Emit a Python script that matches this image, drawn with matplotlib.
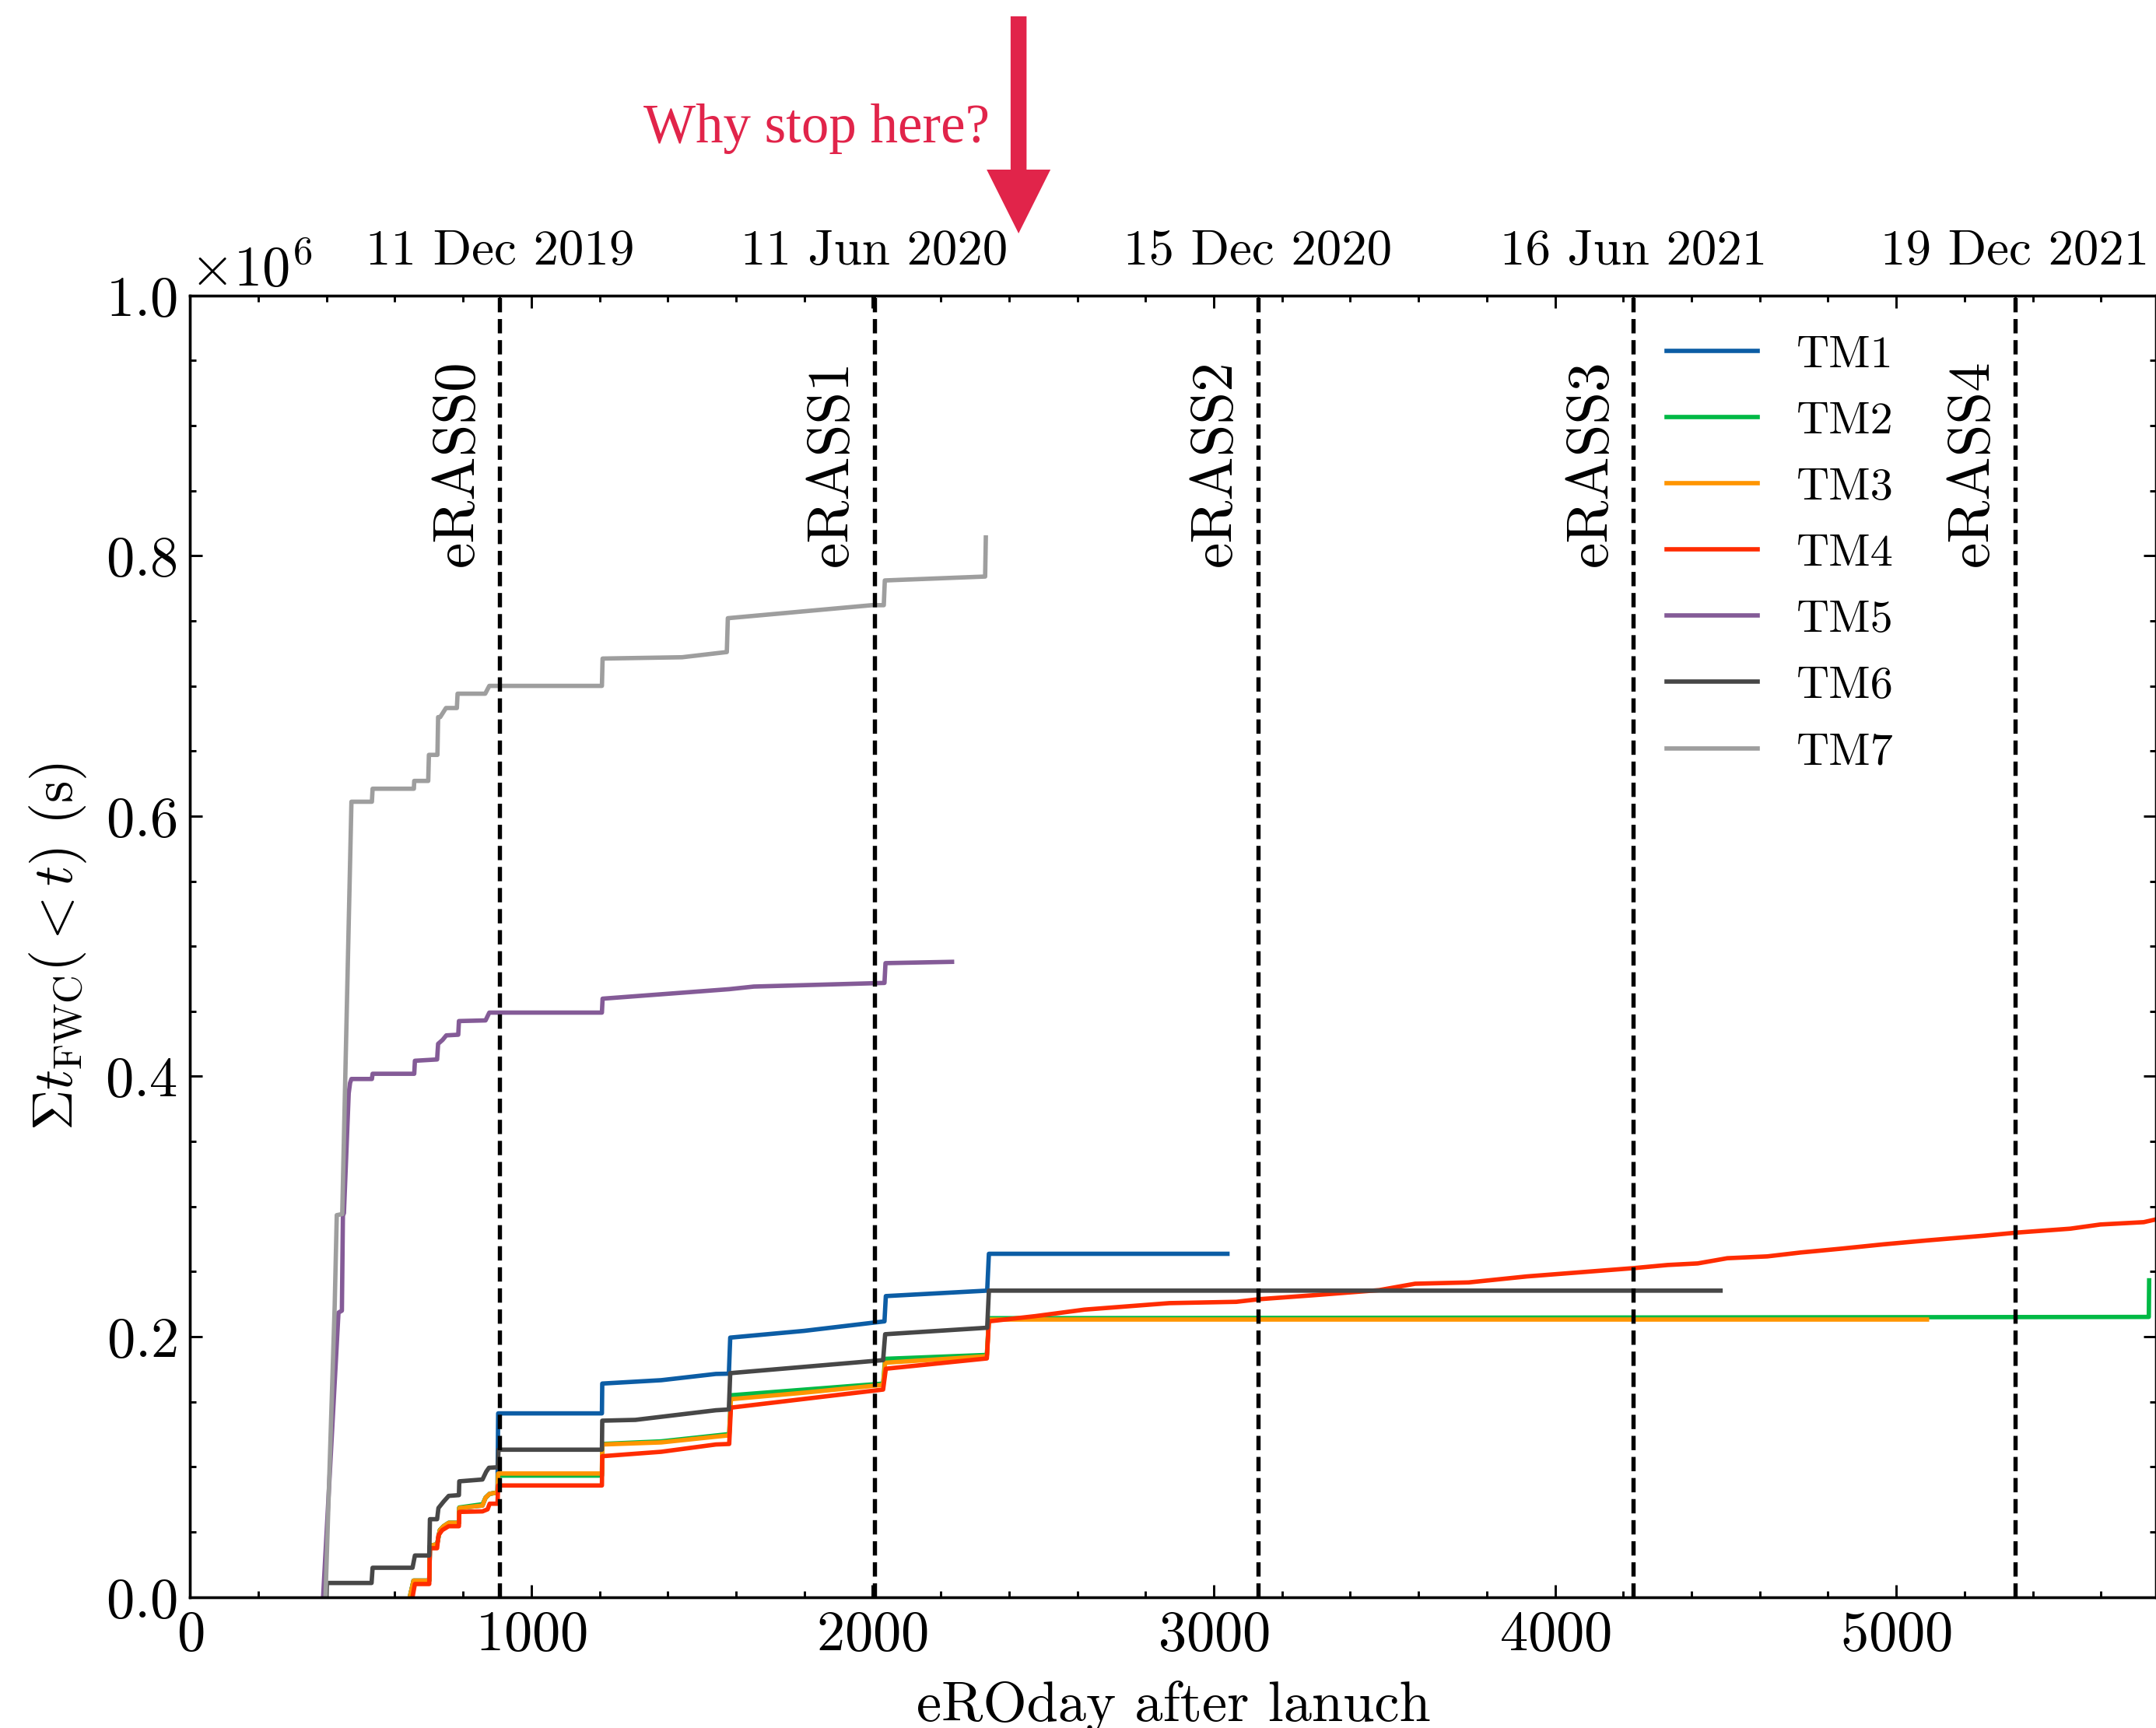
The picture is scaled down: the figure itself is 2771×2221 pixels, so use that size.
import matplotlib
matplotlib.use("Agg")
import matplotlib.pyplot as plt
import matplotlib.transforms as mtransforms
import numpy as np
from matplotlib.ticker import MultipleLocator, ScalarFormatter, NullLocator
from matplotlib.patches import FancyArrow

plt.rcParams.update({
    "font.family": "serif",
    "font.serif": ["cmr10"],
    "mathtext.fontset": "cm",
    "axes.formatter.use_mathtext": True,
    "axes.unicode_minus": False,
    "xtick.direction": "in",
    "ytick.direction": "in",
    "xtick.top": True,
    "ytick.right": True,
})

# ---------------- data (values in units of 1e6 s) ----------------
SCALE = 1e6

tm1_day = [644, 655, 701, 703, 724, 732, 743, 758, 788, 789, 857, 866, 878, 901, 903, 1207, 1208,
           1381, 1541, 1579, 1583, 1800, 2035, 2039, 2336, 2341, 3040]
tm1_val = [0.0, 0.0126, 0.0126, 0.0395, 0.0405, 0.0514, 0.0544, 0.057, 0.057, 0.0684, 0.0703, 0.0763,
           0.0793, 0.0803, 0.1411, 0.1411, 0.164, 0.1666, 0.1714, 0.1716, 0.1993, 0.2045, 0.2118,
           0.2312, 0.2354, 0.2637, 0.2637]

tm2_day = [644, 655, 701, 703, 724, 732, 743, 758, 788, 789, 857, 866, 878, 901, 903, 1207, 1208,
           1381, 1580, 1585, 2031, 2037, 2335, 2341, 5740, 5741]
tm2_val = [0.0, 0.0126, 0.0126, 0.0395, 0.0405, 0.0514, 0.0544, 0.057, 0.057, 0.0688, 0.0713, 0.0763,
           0.0793, 0.0803, 0.0933, 0.0933, 0.1176, 0.1196, 0.1252, 0.155, 0.164, 0.183, 0.186,
           0.2142, 0.2152, 0.2433]

tm3_day = [644, 655, 701, 703, 724, 732, 743, 758, 788, 789, 857, 866, 878, 901, 903, 1207, 1208,
           1381, 1541, 1580, 1585, 1800, 2031, 2037, 2335, 2341, 5090]
tm3_val = [0.0, 0.0126, 0.0126, 0.0395, 0.0405, 0.0514, 0.0544, 0.057, 0.057, 0.0684, 0.0703, 0.0763,
           0.0793, 0.0803, 0.0949, 0.0949, 0.1172, 0.1188, 0.1232, 0.1242, 0.152, 0.157, 0.163,
           0.180, 0.185, 0.2132, 0.2132]

tm4_day = [652, 659, 701, 703, 724, 728, 739, 758, 788, 789, 857, 872, 878, 901, 903, 1207, 1208,
           1381, 1541, 1580, 1585, 2031, 2039, 2335, 2341, 2477, 2621, 2870, 3066, 3132, 3289, 3485,
           3590, 3747, 3917, 4231, 4330, 4418, 4505, 4622, 4720, 4837, 4964, 5091, 5257, 5354, 5510,
           5598, 5725, 5762]
tm4_val = [0.0, 0.010, 0.010, 0.0375, 0.0375, 0.0474, 0.0514, 0.0544, 0.0544, 0.0654, 0.0658, 0.0674,
           0.0717, 0.0717, 0.0857, 0.0857, 0.1082, 0.1116, 0.1172, 0.1176, 0.1455, 0.1594, 0.1754,
           0.1833, 0.2118, 0.2158, 0.2208, 0.2258, 0.2268, 0.2288, 0.2318, 0.2358, 0.2407, 0.2417,
           0.2463, 0.2527, 0.2551, 0.2563, 0.2603, 0.2617, 0.2647, 0.2676, 0.271, 0.274, 0.2776,
           0.280, 0.283, 0.2862, 0.288, 0.2902]

tm5_day = [390, 435, 445, 448, 451, 465, 469, 473, 533, 535, 657, 659, 724, 727, 740, 751, 786, 788,
           866, 877, 1207, 1209, 1580, 1652, 2035, 2038, 2233]
tm5_val = [0.0, 0.2185, 0.220, 0.293, 0.295, 0.387, 0.395, 0.398, 0.398, 0.402, 0.402, 0.412, 0.413,
           0.425, 0.428, 0.4315, 0.432, 0.4425, 0.443, 0.449, 0.449, 0.4597, 0.467, 0.469, 0.4718,
           0.487, 0.488]

tm6_day = [400, 401, 532, 535, 652, 659, 701, 703, 724, 728, 743, 758, 788, 789, 857, 868, 876, 902,
           904, 1207, 1208, 1305, 1541, 1579, 1583, 2031, 2037, 2336, 2341, 4485]
tm6_val = [0.0, 0.0108, 0.0108, 0.0225, 0.0225, 0.0319, 0.0319, 0.0598, 0.0598, 0.0684, 0.0733,
           0.0777, 0.0783, 0.0889, 0.0903, 0.0963, 0.0993, 0.0997, 0.1132, 0.1132, 0.1355, 0.1361,
           0.1435, 0.1441, 0.172, 0.182, 0.2019, 0.2069, 0.2354, 0.2354]

tm7_day = [397, 424, 430, 446, 473, 533, 535, 656, 657, 698, 700, 725, 727, 733, 750, 782, 784, 865,
           877, 1207, 1209, 1442, 1573, 1576, 1998, 2033, 2036, 2330, 2332]
tm7_val = [0.0, 0.2246, 0.2934, 0.2942, 0.611, 0.611, 0.621, 0.621, 0.627, 0.627, 0.647, 0.647, 0.676,
           0.676, 0.683, 0.683, 0.694, 0.694, 0.700, 0.700, 0.721, 0.722, 0.726, 0.752, 0.762,
           0.762, 0.781, 0.784, 0.814]

series_names = ["TM1", "TM2", "TM3", "TM4", "TM5", "TM6", "TM7"]
series_days = [tm1_day, tm2_day, tm3_day, tm4_day, tm5_day, tm6_day, tm7_day]
series_vals = [tm1_val, tm2_val, tm3_val, tm4_val, tm5_val, tm6_val, tm7_val]
colors = ["#0C5DA5", "#00B945", "#FF9500", "#FF2C00", "#845B97", "#474747", "#9e9e9e"]

erass_names = ["eRASS0", "eRASS1", "eRASS2", "eRASS3", "eRASS4"]
erass_day = [908, 2005, 3129, 4230, 5348]
erass_dates = ["11 Dec 2019", "11 Jun 2020", "15 Dec 2020", "16 Jun 2021", "19 Dec 2021"]

XMAX = 5762
ARROW_DAY = 2428
ACCENT = "#E1244A"

# ---------------- figure ----------------
W_PX, H_PX, DPI = 2771, 2221, 300
fig = plt.figure(figsize=((W_PX + 0.4) / DPI, (H_PX + 0.4) / DPI), dpi=DPI)
ax = fig.add_axes([244.2 / W_PX, 168.3 / H_PX, (W_PX - 244.2) / W_PX, 1672.7 / H_PX])

for name, d, v, c in zip(series_names, series_days, series_vals, colors):
    ax.plot(d, np.array(v) * SCALE, color=c, lw=1.35, label=name, zorder=2)

for d in erass_day:
    ax.axvline(d, color="k", ls=(0, (3.4, 1.6)), lw=1.3, zorder=3)

trans = mtransforms.blended_transform_factory(ax.transData, ax.transAxes)
off = mtransforms.ScaledTranslation(-4.8 / 72, 0, fig.dpi_scale_trans)
for d, n in zip(erass_day, erass_names):
    ax.text(d, 0.951, n, rotation=90, ha="right", va="top", fontsize=18,
            transform=trans + off)

ax.set_xlim(0, XMAX)
ax.set_ylim(0, 1.0 * SCALE)
ax.xaxis.set_major_locator(MultipleLocator(1000))
ax.xaxis.set_minor_locator(MultipleLocator(200))
ax.yaxis.set_major_locator(MultipleLocator(0.2 * SCALE))
ax.yaxis.set_minor_locator(MultipleLocator(0.05 * SCALE))
fmt = ScalarFormatter(useMathText=True)
fmt.set_powerlimits((-3, 3))
ax.yaxis.set_major_formatter(fmt)
ax.yaxis.get_offset_text().set_fontsize(17.4)

ax.set_xlabel("eROday after lanuch", fontsize=17.4, labelpad=6)
ax.set_ylabel(r"$\Sigma t_{\rm FWC}(<t)$ (s)", fontsize=17.4, labelpad=5)

leg = ax.legend(loc="center left", bbox_to_anchor=(0.7511, 0.8015), frameon=False, fontsize=14,
                handlelength=2.0, handletextpad=0.85, labelspacing=0.57, borderpad=0,
                borderaxespad=0)

ax2 = ax.twiny()
ax2.set_xlim(ax.get_xlim())
ax2.set_xticks(erass_day)
ax2.set_xticklabels(erass_dates, fontsize=15.6)
ax2.xaxis.set_minor_locator(NullLocator())
ax2.tick_params(axis="x", which="major", direction="in", length=4.5, width=0.7, pad=6.5)

for a in (ax, ax2):
    for s in a.spines.values():
        s.set_linewidth(0.8)
ax.tick_params(which="both", direction="in", top=True, right=True, width=0.7)
ax.tick_params(which="major", length=3.8, labelsize=17.4, pad=4)
ax.tick_params(which="minor", length=1.9)
ax.tick_params(axis="x", labeltop=False)

# annotation arrow and text
x_px = ax.transData.transform((ARROW_DAY, 0))[0]
x_in = x_px / fig.dpi
top_in = (H_PX - 21) / DPI
tip_in = (H_PX - 300) / DPI
arrow = FancyArrow(x_in, top_in, 0, -(top_in - tip_in), width=20.5 / DPI, head_width=82 / DPI,
                   head_length=82 / DPI, length_includes_head=True, color=ACCENT, lw=0,
                   transform=fig.dpi_scale_trans)
fig.add_artist(arrow)
fig.text(1272 / W_PX, 1 - 183 / H_PX, "Why stop here?", ha="right", va="baseline",
         color=ACCENT, fontsize=17.0, family="Liberation Serif")

fig.savefig("out.png", dpi=DPI)
